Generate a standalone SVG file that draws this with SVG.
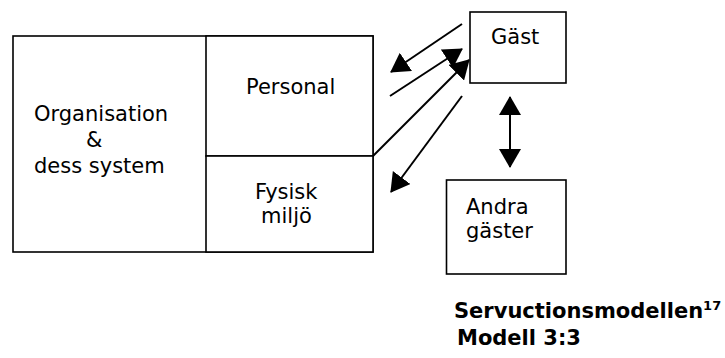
<svg xmlns="http://www.w3.org/2000/svg" width="725" height="358" viewBox="0 0 725 358">
  <style>
    .box { fill: #fff; stroke: #000; stroke-width: 1.6; }
    .lbl { font-family: "DejaVu Sans", Verdana, sans-serif; font-size: 21px; fill: #000; }
    .cap { font-family: "DejaVu Sans", Verdana, sans-serif; font-size: 21px; font-weight: bold; fill: #000; }
    .sup { font-family: "DejaVu Sans", Verdana, sans-serif; font-size: 13px; font-weight: bold; fill: #000; }
    .link { fill: none; stroke: #000; stroke-width: 2; }
  </style>
  <defs>
    <marker id="head" viewBox="0 0 19 22" refX="18" refY="11" markerWidth="19" markerHeight="22" markerUnits="userSpaceOnUse" orient="auto-start-reverse">
      <path d="M0,0 L19,11 L0,22 z" fill="#000"/>
    </marker>
  </defs>
  <rect width="725" height="358" fill="#fff"/>

  <!-- organisation block with its two sub-areas -->
  <g id="organisation">
    <rect class="box" x="13" y="36" width="360" height="216"/>
    <text class="lbl" x="34" y="121">Organisation</text>
    <text class="lbl" x="86" y="147">&amp;</text>
    <text class="lbl" x="34" y="173">dess system</text>
  </g>
  <g id="personal">
    <rect class="box" x="206" y="36" width="167" height="120"/>
    <text class="lbl" x="246" y="94">Personal</text>
  </g>
  <g id="fysisk-miljo">
    <rect class="box" x="206" y="156" width="167" height="96"/>
    <text class="lbl" x="255" y="199">Fysisk</text>
    <text class="lbl" x="261" y="223">miljö</text>
  </g>

  <g id="gast">
    <rect class="box" x="470" y="12" width="96" height="71"/>
    <text class="lbl" x="491" y="44">Gäst</text>
  </g>
  <g id="andra-gaster">
    <rect class="box" x="446.5" y="180" width="119.5" height="94"/>
    <text class="lbl" x="466" y="214">Andra</text>
    <text class="lbl" x="466" y="238">gäster</text>
  </g>

  <!-- interaction arrows -->
  <g id="connectors">
    <line class="link" x1="462" y1="24" x2="391" y2="72" marker-end="url(#head)"/>
    <line class="link" x1="390" y1="96" x2="462" y2="49" marker-end="url(#head)"/>
    <line class="link" x1="373" y1="156" x2="469" y2="60" marker-end="url(#head)"/>
    <line class="link" x1="462" y1="96" x2="391" y2="192" marker-end="url(#head)"/>
    <line class="link" x1="510" y1="97" x2="510" y2="167" marker-start="url(#head)" marker-end="url(#head)"/>
  </g>

  <g id="caption">
    <text class="cap" x="454" y="318">Servuctionsmodellen<tspan class="sup" dy="-8">17</tspan></text>
    <text class="cap" x="457" y="345">Modell 3:3</text>
  </g>
</svg>
